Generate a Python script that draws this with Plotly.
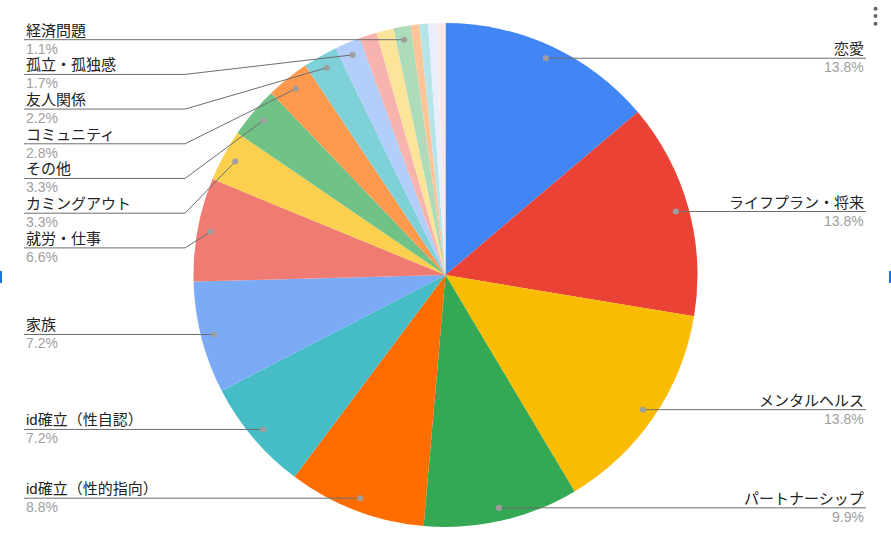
import math
import plotly.graph_objects as go

# Slice data (clockwise from 12 o'clock), counts
categories = ['恋愛', 'ライフプラン・将来', 'メンタルヘルス', 'パートナーシップ',
              'id確立（性的指向）', 'id確立（性自認）', '家族', '就労・仕事',
              'カミングアウト', 'その他', 'コミュニティ', '友人関係', '孤立・孤独感',
              '(13)', '(14)', '経済問題', '(16)', '(17)', '(18)', '(19)']
counts = [25, 25, 25, 18, 16, 13, 13, 12, 6, 6, 5, 4, 3, 2, 2, 2, 1, 1, 1, 1]
# which slices get a printed label, and on which side
right_labels = ['恋愛', 'ライフプラン・将来', 'メンタルヘルス', 'パートナーシップ']
left_labels = ['経済問題', '孤立・孤独感', '友人関係', 'コミュニティ', 'その他',
               'カミングアウト', '就労・仕事', '家族', 'id確立（性自認）', 'id確立（性的指向）']

COLORS = ['#4285F4', '#EA4335', '#FBBC04', '#34A853', '#FF6D01', '#46BDC6',
          '#7BAAF7', '#F07B72', '#FCD04F', '#71C287', '#FF994D', '#7ED1D7',
          '#B3CEFB', '#F7B4AE', '#FDE49B', '#AEDCBA', '#FFC599', '#B5E5E8',
          '#E8EEFB', '#FCE8E6']

W, H = 891, 545
CX, CY, R = 445.5, 275, 252
FONT = 'Liberation Sans, Arial, Noto Sans CJK JP, sans-serif'
LINE_GRAY = '#6E6E6E'
DOT_GRAY = '#9E9E9E'


def px(x, y):
    return x / W, 1 - y / H


fig = go.Figure(go.Pie(
    labels=categories,
    values=counts,
    sort=False,
    direction='clockwise',
    rotation=0,
    textinfo='none',
    marker=dict(colors=COLORS, line=dict(width=0)),
    domain=dict(x=[0, 1], y=[18 / H, 1 - 23 / H]),
    showlegend=False,
))

total = sum(counts)
dots = {}
cum = 0
for name, v in zip(categories, counts):
    mid = (cum + v / 2) / total * 2 * math.pi
    r = 0.948 * R
    dots[name] = (CX + r * math.sin(mid), CY - r * math.cos(mid))
    cum += v
pct = {n: f"{v / total * 100:.1f}%" for n, v in zip(categories, counts)}

shapes = []
annotations = []


def add_label(name, line_y, x_text, anchor):
    tx, ty = px(x_text, line_y - 9.5)
    annotations.append(dict(x=tx, y=ty, xref='paper', yref='paper', text=name,
                            showarrow=False, xanchor=anchor, yanchor='middle',
                            font=dict(size=15, color='#222222', family=FONT)))
    tx, ty = px(x_text, line_y + 9)
    annotations.append(dict(x=tx, y=ty, xref='paper', yref='paper', text=pct[name],
                            showarrow=False, xanchor=anchor, yanchor='middle',
                            font=dict(size=14, color='#9E9E9E', family=FONT)))


def add_dot(x, y):
    x0, y0 = px(x - 3, y - 3)
    x1, y1 = px(x + 3, y + 3)
    shapes.append(dict(type='circle', xref='paper', yref='paper', x0=x0, y0=y1, x1=x1, y1=y0,
                       fillcolor=DOT_GRAY, line=dict(width=0)))


def add_path(points):
    d = 'M ' + ' L '.join(f"{px(x, y)[0]},{px(x, y)[1]}" for x, y in points)
    shapes.append(dict(type='path', xref='paper', yref='paper', path=d,
                       line=dict(color=LINE_GRAY, width=1)))


# right side: straight lines to the right edge
for name in right_labels:
    dx, dy = dots[name]
    add_path([(dx, dy), (866, dy)])
    add_dot(dx, dy)
    add_label(name, dy, 866, 'right')

# left side: stacked with minimum spacing, bent leader lines
prev = -1e9
for name in left_labels:
    dx, dy = dots[name]
    ly = max(dy, prev + 34.7)
    prev = ly
    if abs(ly - dy) < 0.5:
        add_path([(24, ly), (dx, dy)])
    else:
        add_path([(24, ly), (185, ly), (dx, dy)])
    add_dot(dx, dy)
    add_label(name, ly, 24, 'left')

# menu dots and selection handles
for yy in (8.7, 16, 23.7):
    x0, y0 = px(873.5, yy - 2)
    x1, y1 = px(877.5, yy + 2)
    shapes.append(dict(type='circle', xref='paper', yref='paper', x0=x0, y0=y1, x1=x1, y1=y0,
                       fillcolor='#666666', line=dict(width=0)))
for hx in (0, 889):
    x0, y0 = px(hx, 271)
    x1, y1 = px(hx + 2, 283)
    shapes.append(dict(type='rect', xref='paper', yref='paper', x0=x0, y0=y1, x1=x1, y1=y0,
                       fillcolor='#1A73E8', line=dict(width=0)))

fig.update_layout(
    width=W, height=H,
    margin=dict(l=0, r=0, t=0, b=0),
    paper_bgcolor='white',
    plot_bgcolor='white',
    shapes=shapes,
    annotations=annotations,
)

fig.write_html("out.html", config={'displayModeBar': False},
               post_script="document.body.style.margin='0';")
